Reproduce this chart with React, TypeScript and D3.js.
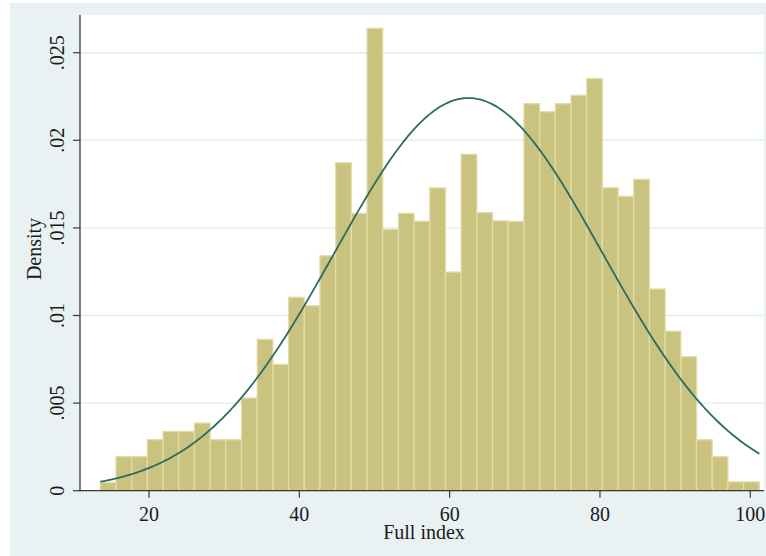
import React from 'react';
import * as d3 from 'd3';

// histogram of "Full index" with a fitted normal density
const binStart = 13.52;
const binWidth = 2.0876;
const density = [
  0.00047, 0.00194, 0.00194, 0.00291, 0.00338, 0.00338, 0.00386, 0.00291,
  0.00291, 0.00529, 0.00864, 0.00721, 0.01104, 0.01056, 0.01341, 0.01872,
  0.01583, 0.02639, 0.01492, 0.01583, 0.01538, 0.01728, 0.01248, 0.0192,
  0.01587, 0.0154, 0.01537, 0.02209, 0.02163, 0.02209, 0.02257, 0.02352,
  0.01729, 0.0168, 0.01777, 0.01151, 0.0091, 0.00765, 0.00291, 0.00194,
  0.0005, 0.0005,
];

// fitted normal
const normalMean = 62.5;
const normalSd = 17.8;

const xTicks = [20, 40, 60, 80, 100];
const yTicks = [0, 0.005, 0.01, 0.015, 0.02, 0.025];
const yTickLabels = ['0', '.005', '.01', '.015', '.02', '.025'];

const W = 766;
const H = 556;
const plotLeft = 80;
const plotRight = 764;
const plotTop = 15;
const plotBottom = 490.7;

const font = '"Liberation Serif", "Times New Roman", serif';

export default function App() {
  const x = d3.scaleLinear().domain([20, 100]).range([149, 750.3]);
  const y = d3.scaleLinear().domain([0, 0.025]).range([plotBottom, 52.7]);

  const bins = density.map((d, i) => ({
    x0: binStart + i * binWidth,
    x1: binStart + (i + 1) * binWidth,
    d,
  }));

  const xMin = binStart;
  const xMax = binStart + density.length * binWidth;
  const pdf = (v: number) =>
    Math.exp(-0.5 * ((v - normalMean) / normalSd) ** 2) / (normalSd * Math.sqrt(2 * Math.PI));
  const pts = d3.range(xMin, xMax, 0.25).concat([xMax]);
  const line = d3
    .line<number>()
    .x((v) => x(v))
    .y((v) => y(pdf(v)))
    .curve(d3.curveBasis);

  return (
    <svg
      width={W}
      height={H}
      style={{ position: 'absolute', left: 0, top: 0 }}
      fontFamily={font}
    >
      <rect x={0} y={0} width={W} height={H} fill="#ffffff" />
      <rect x={10} y={3} width={W - 10} height={H - 3} fill="#eaf1f3" />
      <rect
        x={plotLeft}
        y={plotTop}
        width={plotRight - plotLeft}
        height={plotBottom - plotTop}
        fill="#ffffff"
      />

      {/* grid */}
      {yTicks.slice(1).map((t) => (
        <line
          key={'g' + t}
          x1={plotLeft}
          x2={plotRight}
          y1={y(t)}
          y2={y(t)}
          stroke="#e3ecef"
          strokeWidth={1.4}
        />
      ))}

      {/* bars */}
      {bins.map((b, i) => (
        <rect
          key={i}
          x={x(b.x0)}
          y={y(b.d)}
          width={x(b.x1) - x(b.x0)}
          height={plotBottom - y(b.d)}
          fill="#cac27f"
          stroke="#e2dca7"
          strokeWidth={1.3}
        />
      ))}

      {/* normal curve */}
      <path d={line(pts) || ''} fill="none" stroke="#2b6c62" strokeWidth={1.8} />

      {/* axes */}
      <line x1={plotLeft} x2={plotLeft} y1={plotTop} y2={plotBottom + 0.6} stroke="#3a3a3a" strokeWidth={1.3} />
      <line x1={plotLeft - 0.6} x2={plotRight} y1={plotBottom} y2={plotBottom} stroke="#3a3a3a" strokeWidth={1.3} />

      {yTicks.map((t, i) => (
        <g key={'y' + t} transform={`translate(0,${y(t)})`}>
          <line x1={plotLeft - 7} x2={plotLeft} stroke="#3a3a3a" strokeWidth={1.2} />
          <text
            transform="translate(63.5,0) rotate(-90)"
            textAnchor="middle"
            fontSize={20}
            fill="#1a1a1a"
          >
            {yTickLabels[i]}
          </text>
        </g>
      ))}

      {xTicks.map((t) => (
        <g key={'x' + t} transform={`translate(${x(t)},0)`}>
          <line y1={plotBottom} y2={plotBottom + 7} stroke="#3a3a3a" strokeWidth={1.2} />
          <text x={0} y={521} textAnchor="middle" fontSize={20} fill="#1a1a1a">
            {t}
          </text>
        </g>
      ))}

      <text x={424} y={539} textAnchor="middle" fontSize={20} fill="#1a1a1a">
        Full index
      </text>
      <text
        transform="translate(41,249) rotate(-90)"
        textAnchor="middle"
        fontSize={20}
        fill="#1a1a1a"
      >
        Density
      </text>
    </svg>
  );
}
